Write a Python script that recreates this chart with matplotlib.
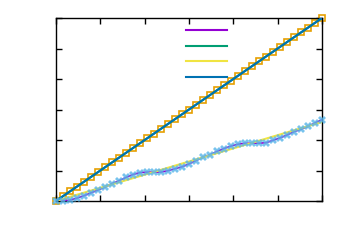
import matplotlib
matplotlib.use("Agg")
import matplotlib.pyplot as plt
from matplotlib.lines import Line2D

# sample index (39 samples across the axis)
x = list(range(39))

# upper series: identity line
upper = list(range(39))

# lower wavy series
lower = [0.0, 0.0, 0.2, 0.6, 1.1, 1.7, 2.3, 2.9, 3.6, 4.2, 4.9, 5.5, 5.9,
         6.0, 6.0, 6.0, 6.3, 6.7, 7.1, 7.7, 8.4, 9.1, 9.6, 10.3, 10.9, 11.4,
         11.8, 12.0, 12.0, 12.0, 12.1, 12.6, 13.1, 13.7, 14.4, 14.9, 15.5,
         16.2, 16.9]

# straight fit through the lower series
fit_x = [0, 38]
fit_y = [0.0, 16.4]

purple = '#9400D3'
green = '#009E73'
sky = '#56B4E9'
orange = '#E69F00'
yellow = '#F0E442'
blue = '#0072B2'

fig = plt.figure(figsize=(3.5, 2.5), dpi=100)
ax = fig.add_axes([0.16, 0.196, 0.76, 0.732])

ax.plot(x, upper, 's', color=orange, mfc='none', ms=5, mew=1.2, zorder=2,
        clip_on=False)
ax.plot(x, lower, color=purple, lw=1.2, zorder=3)
ax.plot(x, upper, color=green, lw=1.5, zorder=3)
ax.plot(fit_x, fit_y, color=yellow, lw=1.5, zorder=3)
ax.plot(x, upper, color=blue, lw=1.5, zorder=4)
ax.plot(x, lower, 'X', color=sky, ms=5.5, alpha=0.8, mew=0, zorder=4,
        clip_on=False)

ax.set_xlim(0, 38)
ax.set_ylim(0, 38)
ticks = [0, 38 / 6, 2 * 38 / 6, 3 * 38 / 6, 4 * 38 / 6, 5 * 38 / 6, 38]
ax.set_xticks(ticks)
ax.set_yticks(ticks)
ax.set_xticklabels([])
ax.set_yticklabels([])
ax.tick_params(direction='in', length=4, width=1, top=True, right=True)
for s in ax.spines.values():
    s.set_linewidth(1)

handles = [Line2D([], [], color=c, lw=1.5) for c in [purple, green, yellow, blue]]
ax.legend(handles, [' '] * 4, loc='upper left', bbox_to_anchor=(0.45, 1.01),
          frameon=False, handlelength=3.7, handletextpad=0.3,
          labelspacing=0.5, fontsize=8)

fig.savefig('out.png', dpi=100)
